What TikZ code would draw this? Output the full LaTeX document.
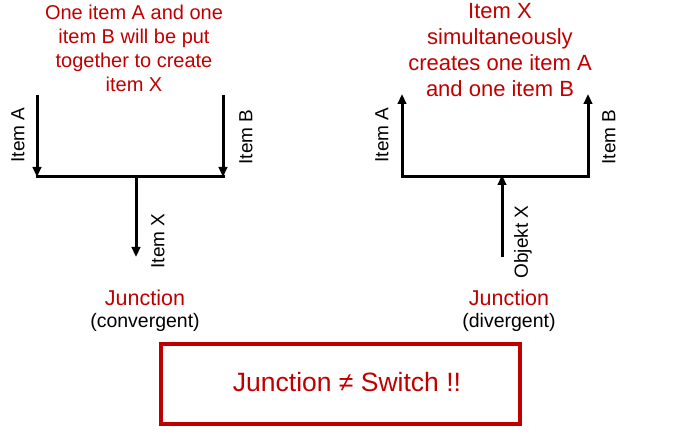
\documentclass[tikz,border=0pt]{standalone}
\usepackage{fontspec}
\setmainfont{Liberation Sans}
\usetikzlibrary{arrows.meta}
\definecolor{dred}{RGB}{192,0,0}
\begin{document}
\begin{tikzpicture}[x=1pt,y=-1pt,
  flow/.style={line width=3pt,-{Triangle[length=10pt,width=8.5pt]}},
  bar/.style={line width=3pt},
  lbl/.style={rotate=90,font=\fontsize{19}{22}\selectfont,inner sep=0pt},
  rtext/.style={text=dred,align=center,inner sep=0pt},
  jn/.style={text=dred,font=\fontsize{21.5}{24}\selectfont,inner sep=0pt},
  sub/.style={font=\fontsize{19.5}{22}\selectfont,inner sep=0pt}]
\useasboundingbox (0,0) rectangle (691,438);
% left (convergent)
\coordinate (LAs) at (37,95);
\coordinate (LAe) at (37,177);
\coordinate (LBs) at (223,95);
\coordinate (LBe) at (223,177);
\coordinate (LXs) at (136,176);
\coordinate (LXe) at (136,257);
\draw[flow] (LAs) -- (LAe);
\draw[flow] (LBs) -- (LBe);
\draw[bar] ([xshift=-1.5pt]LAe) -- ([xshift=1.5pt]LBe);
\draw[flow] (LXs) -- (LXe);
\node[lbl] (lA) at (18,135) {Item A};
\node[lbl] (lB) at (246,137) {Item B};
\node[lbl] (lX) at (158,241) {Item X};
\node[rtext,font=\fontsize{20}{24}\selectfont,anchor=north] (lt) at (134,5)
  {One item A and one\\item B will be put\\together to create\\item X};
\node[jn] (lj) at (145,298) {Junction};
\node[sub] (lc) at (145,322) {(convergent)};
% right (divergent)
\coordinate (RAs) at (402,177);
\coordinate (RAe) at (402,94);
\coordinate (RBs) at (588,177);
\coordinate (RBe) at (588,94);
\coordinate (RXs) at (502,257);
\coordinate (RXe) at (502,175);
\draw[bar] ([xshift=-1.5pt]RAs) -- ([xshift=1.5pt]RBs);
\draw[flow] (RAs) -- (RAe);
\draw[flow] (RBs) -- (RBe);
\draw[flow] (RXs) -- (RXe);
\node[lbl] (rA) at (382,135) {Item A};
\node[lbl] (rB) at (609,137) {Item B};
\node[lbl] (rX) at (523,242) {Objekt X};
\node[rtext,font=\fontsize{22}{26}\selectfont,anchor=north] (rt) at (500,3)
  {Item X\\simultaneously\\creates one item A\\and one item B};
\node[jn] (rj) at (509,298) {Junction};
\node[sub] (rd) at (509,322) {(divergent)};
% box
\node[draw=dred,line width=4pt,minimum width=359pt,minimum height=80pt] (box) at (340.5,384) {};
\node[text=dred,font=\fontsize{26.5}{30}\selectfont,inner sep=0pt] (bt) at (347,382)
  {Junction ≠ Switch !!};
\end{tikzpicture}
\end{document}
